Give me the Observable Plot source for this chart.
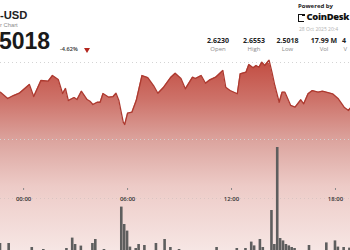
<!DOCTYPE html>
<html><head><meta charset="utf-8">
<script src="https://cdn.jsdelivr.net/npm/d3@7"></script>
<script src="https://cdn.jsdelivr.net/npm/@observablehq/plot@0.6"></script>
<style>
html,body{margin:0;padding:0;background:#fff;}
#wrap{position:relative;width:350px;height:250px;overflow:hidden;font-family:"Open Sans",Inter,sans-serif;}
#wrap svg{position:absolute;left:0;top:0;}
.t{position:absolute;white-space:nowrap;line-height:1;}
.c{transform:translateX(-50%);}
.ls{font-family:"Liberation Sans",Arial,sans-serif;}
</style></head><body>
<div id="wrap"></div>
<script>
// ---- data ----
const priceTimes = [
"2025-10-27T22:40","2025-10-27T23:05","2025-10-27T23:25","2025-10-27T23:45",
"2025-10-28T00:00","2025-10-28T00:20","2025-10-28T00:35","2025-10-28T01:00","2025-10-28T01:25","2025-10-28T01:40",
"2025-10-28T02:00","2025-10-28T02:15","2025-10-28T02:25","2025-10-28T02:35","2025-10-28T02:55","2025-10-28T03:05",
"2025-10-28T03:20","2025-10-28T03:40","2025-10-28T03:50","2025-10-28T04:00","2025-10-28T04:15","2025-10-28T04:25",
"2025-10-28T04:35","2025-10-28T04:55","2025-10-28T05:10","2025-10-28T05:20","2025-10-28T05:30","2025-10-28T05:45",
"2025-10-28T05:50","2025-10-28T06:00","2025-10-28T06:15","2025-10-28T06:30","2025-10-28T06:50","2025-10-28T07:10",
"2025-10-28T07:30","2025-10-28T07:45","2025-10-28T08:05","2025-10-28T08:30","2025-10-28T08:45","2025-10-28T09:05",
"2025-10-28T09:20","2025-10-28T09:45","2025-10-28T09:55","2025-10-28T10:15","2025-10-28T10:30","2025-10-28T10:45",
"2025-10-28T11:05","2025-10-28T11:30","2025-10-28T11:40","2025-10-28T11:55","2025-10-28T12:20","2025-10-28T12:30",
"2025-10-28T12:50","2025-10-28T13:00","2025-10-28T13:15","2025-10-28T13:25","2025-10-28T13:35","2025-10-28T13:45",
"2025-10-28T13:55","2025-10-28T14:10","2025-10-28T14:20","2025-10-28T14:30","2025-10-28T14:45","2025-10-28T14:55",
"2025-10-28T15:05","2025-10-28T15:25","2025-10-28T15:40","2025-10-28T16:00","2025-10-28T16:10","2025-10-28T16:25",
"2025-10-28T16:40","2025-10-28T17:00","2025-10-28T17:15","2025-10-28T17:50","2025-10-28T18:10","2025-10-28T18:30",
"2025-10-28T18:45","2025-10-28T18:50","2025-10-28T18:55"];
const priceValues = [
2.6114,2.6032,2.6071,2.6101,
2.6149,2.6214,2.6058,2.6266,2.6257,2.6331,
2.6279,2.6097,2.6162,2.6006,2.6045,2.6019,
2.6127,2.6019,2.5997,2.5955,2.5984,2.5984,
2.6097,2.6049,2.6058,2.6101,2.6006,2.5725,
2.5695,2.5842,2.5855,2.6006,2.6331,2.6305,
2.6201,2.6101,2.6179,2.6309,2.6361,2.6292,
2.6158,2.6309,2.6292,2.6331,2.6231,2.6275,
2.6309,2.6396,2.6179,2.6136,2.6094,2.6353,
2.6374,2.6474,2.6431,2.6461,2.6439,2.6504,
2.6461,2.6530,2.6374,2.6201,2.5984,2.6114,
2.6114,2.5942,2.5920,2.6016,2.5964,2.6094,
2.6136,2.6114,2.6127,2.6094,2.6029,2.5920,
2.5877,2.5903,2.5916];
const volTimes = [
"2025-10-27T22:40","2025-10-27T23:10","2025-10-28T00:30","2025-10-28T01:10","2025-10-28T02:30","2025-10-28T02:50",
"2025-10-28T03:00","2025-10-28T03:20","2025-10-28T04:00","2025-10-28T04:10","2025-10-28T04:40","2025-10-28T05:40",
"2025-10-28T05:50","2025-10-28T06:00","2025-10-28T06:10","2025-10-28T06:30","2025-10-28T06:40","2025-10-28T07:00",
"2025-10-28T07:40","2025-10-28T08:10","2025-10-28T08:30","2025-10-28T09:00","2025-10-28T11:10","2025-10-28T12:20",
"2025-10-28T12:50","2025-10-28T13:10","2025-10-28T13:20","2025-10-28T13:40","2025-10-28T13:50","2025-10-28T14:20",
"2025-10-28T14:30","2025-10-28T14:40","2025-10-28T14:50","2025-10-28T15:00","2025-10-28T15:10","2025-10-28T15:20",
"2025-10-28T15:30","2025-10-28T15:40","2025-10-28T16:30","2025-10-28T17:30","2025-10-28T18:00","2025-10-28T18:10",
"2025-10-28T18:30","2025-10-28T18:50"];
const volValues = [ // millions
0.55,0.55,0.35,0.25,0.30,0.82,
0.50,0.42,0.55,0.75,0.25,2.37,
1.50,1.17,0.37,0.30,0.50,0.45,
0.55,0.75,0.35,0.25,0.35,0.30,
0.30,0.62,0.43,0.75,0.35,2.20,
0.50,5.35,0.80,0.68,0.50,0.43,
0.35,0.30,0.45,0.58,0.68,0.37,
0.35,0.32];
const xDomain = ["2025-10-27T22:40","2025-10-28T18:52"];
const tickTimes = ["2025-10-28T00:00","2025-10-28T06:00","2025-10-28T12:00","2025-10-28T18:00"];
const priceGrid = [2.55, 2.65];
const priceDomain = [2.55, 2.65];
const areaFloor = 2.40;
const volDomain = [0, 2.8];
const volGrid = [2.8];
const statValues = ["2.6230","2.6553","2.5018","17.99 M"];
const statLabels = ["Open","High","Low","Vol"];

const P = s => new Date(s + ":00Z");
const price = priceTimes.map((t,i)=>({t:P(t), p:priceValues[i]}));
const vol = volTimes.map((t,i)=>({t:P(t), v:volValues[i]}));
const dom = xDomain.map(P);
const half = 4.5*60*1000;

function gradientDefs(){
  const ns="http://www.w3.org/2000/svg";
  const defs=document.createElementNS(ns,"defs");
  const g=document.createElementNS(ns,"linearGradient");
  g.setAttribute("id","fillGrad");
  g.setAttribute("x1","0");g.setAttribute("x2","0");g.setAttribute("y1","0");g.setAttribute("y2","1");
  [["0","#c24c41"],["0.2","#cd7168"],["0.42","#dca59f"],["0.65","#edcbc7"],["1","#f7e8e6"]].forEach(([o,c])=>{
    const s=document.createElementNS(ns,"stop");s.setAttribute("offset",o);s.setAttribute("stop-color",c);g.appendChild(s);
  });
  defs.appendChild(g);return defs;
}

const wrap=document.getElementById("wrap");

const pricePlot = Plot.plot({
  width:350,height:250,margin:0,
  style:{background:"transparent",overflow:"visible"},
  x:{type:"utc",domain:dom,range:[0,350],axis:null},
  y:{domain:priceDomain,range:[139,62],axis:null},
  marks:[
    gradientDefs,
    Plot.areaY(price,{x:"t",y1:()=>areaFloor,y2:"p",fill:"url(#fillGrad)"}),
    Plot.ruleY(priceGrid,{stroke:"#d4d4d4",strokeDasharray:"1,3",strokeWidth:1}),
    Plot.lineY(price,{x:"t",y:"p",stroke:"#ad3a30",strokeWidth:1.3})
  ]
});
wrap.appendChild(pricePlot);

const volPlot = Plot.plot({
  width:350,height:250,marginTop:0,marginLeft:0,marginRight:0,marginBottom:62,
  style:{background:"transparent",overflow:"visible"},
  x:{type:"utc",domain:dom,range:[0,350],axis:null},
  y:{domain:volDomain,range:[254,198],axis:null},
  marks:[
    Plot.ruleY(volGrid,{stroke:"#d9c4c2",strokeDasharray:"1,3",strokeWidth:1}),
    Plot.rectY(vol,{x1:d=>new Date(+d.t-half),x2:d=>new Date(+d.t+half),y:"v",fill:"#5e5e5e"}),
    Plot.axisX({ticks:tickTimes.map(P),tickFormat:d3.utcFormat("%H:%M"),tickSize:2,tickPadding:6,
      fontSize:6,fontWeight:600,color:"#333",stroke:"#888",fontFamily:"Open Sans"})
  ]
});
wrap.appendChild(volPlot);

// ---- header texts ----
function txt(s,css,cls){const d=document.createElement("div");d.className="t "+(cls||"");d.textContent=s;d.style.cssText=css;wrap.appendChild(d);return d;}
txt("-USD","left:0;top:10.2px;font-size:11.2px;font-weight:700;color:#222;","ls");
txt("r Chart","left:0;top:22.5px;font-size:5.8px;color:#8a8a8a;","ls");
txt("5018","left:-1px;top:30.3px;font-size:23px;font-weight:700;color:#1a1a1a;","ls");
txt("-4.62%","left:60px;top:46.8px;font-size:5.6px;font-weight:600;color:#333;");
const tri=document.createElement("div");
tri.style.cssText="position:absolute;left:84px;top:48px;width:0;height:0;border-left:3px solid transparent;border-right:3px solid transparent;border-top:5px solid #b3261e;";
wrap.appendChild(tri);
txt("Powered by","left:298px;top:3px;font-size:6px;font-weight:700;color:#222;");
const icon=document.createElement("div");
icon.style.cssText="position:absolute;left:298px;top:13.5px;width:5px;height:6.5px;border:1.5px solid #111;border-right:none;";
wrap.appendChild(icon);
const icon2=document.createElement("div");
icon2.style.cssText="position:absolute;left:302px;top:13.5px;width:2.5px;height:2.5px;background:#111;";
wrap.appendChild(icon2);
txt("CoinDesk","left:306.5px;top:12px;font-size:9.4px;font-weight:800;color:#111;letter-spacing:-0.3px;");
txt("28 Oct 2025 20:4","left:299px;top:26.5px;font-size:5px;color:#b0b0b0;");
const centers=[218,254,287.5,324];
statValues.forEach((v,i)=>{
  txt(v,`left:${centers[i]}px;top:36.8px;font-size:7px;font-weight:700;color:#222;`,"c");
  txt(statLabels[i],`left:${centers[i]}px;top:46px;font-size:6px;color:#8a8a8a;`,"c");
});
txt("4","left:342px;top:36.8px;font-size:7px;font-weight:700;color:#222;");
txt("V","left:343.5px;top:46px;font-size:6px;color:#8a8a8a;");
</script>
</body></html>
